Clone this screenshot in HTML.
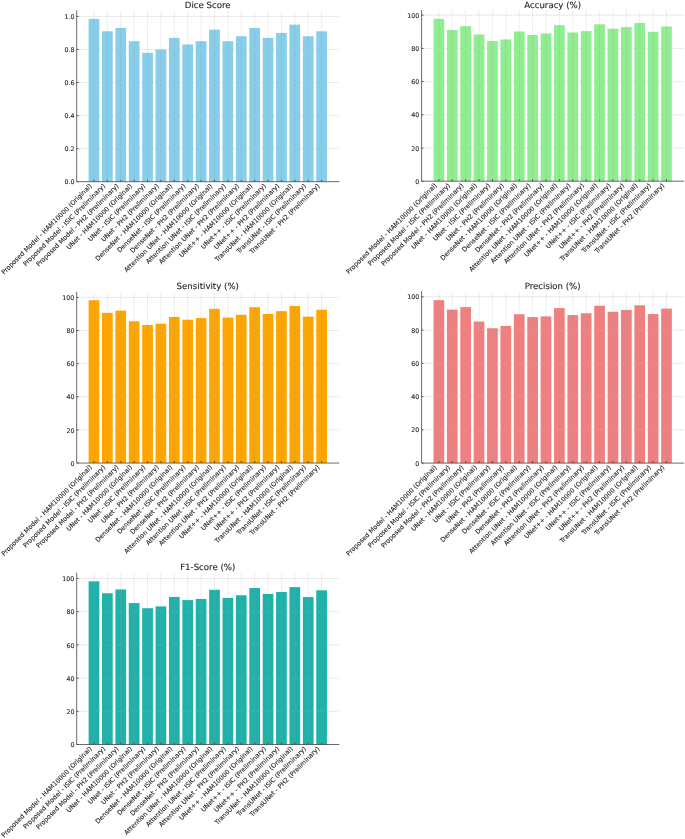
<!DOCTYPE html>
<html><head><meta charset="utf-8"><title>Model comparison</title>
<style>
html,body{margin:0;padding:0;background:#fff;}
svg{display:block;filter:blur(0.3px);}
text{font-family:"DejaVu Sans","Liberation Sans",sans-serif;fill:#262626;text-rendering:geometricPrecision;stroke:#262626;stroke-width:0.12px;}
.t{font-size:8.6px;text-anchor:middle;}
.y{font-size:6.3px;text-anchor:end;}
.x{font-size:6.45px;text-anchor:end;stroke-width:0.11px;}
.g{stroke:#cccccc;stroke-width:0.5;stroke-dasharray:1.3 0.6;fill:none;}
.o{stroke:#9a9a9a;stroke-width:0.5;fill:none;opacity:0.45;}
.s{stroke:#444444;stroke-width:0.8;fill:none;stroke-linecap:square;}
.k{stroke:#444444;stroke-width:0.85;fill:none;}
</style></head><body>
<svg width="685" height="839" viewBox="0 0 685 839">
<rect width="685" height="839" fill="#ffffff"/>

<g>
<text class="t" x="207.75" y="7.60">Dice Score</text>
<line class="g" x1="76.70" x2="338.80" y1="148.64" y2="148.64"/>
<line class="g" x1="76.70" x2="338.80" y1="115.58" y2="115.58"/>
<line class="g" x1="76.70" x2="338.80" y1="82.52" y2="82.52"/>
<line class="g" x1="76.70" x2="338.80" y1="49.46" y2="49.46"/>
<line class="g" x1="76.70" x2="338.80" y1="16.40" y2="16.40"/>
<line class="g" x1="93.97" x2="93.97" y1="10.90" y2="181.70"/>
<line class="g" x1="107.36" x2="107.36" y1="10.90" y2="181.70"/>
<line class="g" x1="120.75" x2="120.75" y1="10.90" y2="181.70"/>
<line class="g" x1="134.14" x2="134.14" y1="10.90" y2="181.70"/>
<line class="g" x1="147.53" x2="147.53" y1="10.90" y2="181.70"/>
<line class="g" x1="160.92" x2="160.92" y1="10.90" y2="181.70"/>
<line class="g" x1="174.31" x2="174.31" y1="10.90" y2="181.70"/>
<line class="g" x1="187.70" x2="187.70" y1="10.90" y2="181.70"/>
<line class="g" x1="201.09" x2="201.09" y1="10.90" y2="181.70"/>
<line class="g" x1="214.48" x2="214.48" y1="10.90" y2="181.70"/>
<line class="g" x1="227.87" x2="227.87" y1="10.90" y2="181.70"/>
<line class="g" x1="241.26" x2="241.26" y1="10.90" y2="181.70"/>
<line class="g" x1="254.65" x2="254.65" y1="10.90" y2="181.70"/>
<line class="g" x1="268.04" x2="268.04" y1="10.90" y2="181.70"/>
<line class="g" x1="281.43" x2="281.43" y1="10.90" y2="181.70"/>
<line class="g" x1="294.82" x2="294.82" y1="10.90" y2="181.70"/>
<line class="g" x1="308.21" x2="308.21" y1="10.90" y2="181.70"/>
<line class="g" x1="321.60" x2="321.60" y1="10.90" y2="181.70"/>
<rect x="88.62" y="18.88" width="10.71" height="162.82" fill="#87CEEB"/>
<rect x="102.01" y="31.28" width="10.71" height="150.42" fill="#87CEEB"/>
<rect x="115.40" y="27.97" width="10.71" height="153.73" fill="#87CEEB"/>
<rect x="128.79" y="41.20" width="10.71" height="140.50" fill="#87CEEB"/>
<rect x="142.18" y="52.77" width="10.71" height="128.93" fill="#87CEEB"/>
<rect x="155.57" y="49.46" width="10.71" height="132.24" fill="#87CEEB"/>
<rect x="168.96" y="37.89" width="10.71" height="143.81" fill="#87CEEB"/>
<rect x="182.35" y="44.50" width="10.71" height="137.20" fill="#87CEEB"/>
<rect x="195.74" y="41.20" width="10.71" height="140.50" fill="#87CEEB"/>
<rect x="209.13" y="29.62" width="10.71" height="152.08" fill="#87CEEB"/>
<rect x="222.52" y="41.20" width="10.71" height="140.50" fill="#87CEEB"/>
<rect x="235.91" y="36.24" width="10.71" height="145.46" fill="#87CEEB"/>
<rect x="249.30" y="27.97" width="10.71" height="153.73" fill="#87CEEB"/>
<rect x="262.69" y="37.89" width="10.71" height="143.81" fill="#87CEEB"/>
<rect x="276.08" y="32.93" width="10.71" height="148.77" fill="#87CEEB"/>
<rect x="289.47" y="24.67" width="10.71" height="157.03" fill="#87CEEB"/>
<rect x="302.86" y="36.24" width="10.71" height="145.46" fill="#87CEEB"/>
<rect x="316.25" y="31.28" width="10.71" height="150.42" fill="#87CEEB"/>
<line class="o" x1="93.97" x2="93.97" y1="18.88" y2="181.70"/>
<line class="o" x1="107.36" x2="107.36" y1="31.28" y2="181.70"/>
<line class="o" x1="120.75" x2="120.75" y1="27.97" y2="181.70"/>
<line class="o" x1="134.14" x2="134.14" y1="41.20" y2="181.70"/>
<line class="o" x1="147.53" x2="147.53" y1="52.77" y2="181.70"/>
<line class="o" x1="160.92" x2="160.92" y1="49.46" y2="181.70"/>
<line class="o" x1="174.31" x2="174.31" y1="37.89" y2="181.70"/>
<line class="o" x1="187.70" x2="187.70" y1="44.50" y2="181.70"/>
<line class="o" x1="201.09" x2="201.09" y1="41.20" y2="181.70"/>
<line class="o" x1="214.48" x2="214.48" y1="29.62" y2="181.70"/>
<line class="o" x1="227.87" x2="227.87" y1="41.20" y2="181.70"/>
<line class="o" x1="241.26" x2="241.26" y1="36.24" y2="181.70"/>
<line class="o" x1="254.65" x2="254.65" y1="27.97" y2="181.70"/>
<line class="o" x1="268.04" x2="268.04" y1="37.89" y2="181.70"/>
<line class="o" x1="281.43" x2="281.43" y1="32.93" y2="181.70"/>
<line class="o" x1="294.82" x2="294.82" y1="24.67" y2="181.70"/>
<line class="o" x1="308.21" x2="308.21" y1="36.24" y2="181.70"/>
<line class="o" x1="321.60" x2="321.60" y1="31.28" y2="181.70"/>
<line class="g" style="opacity:0.3" x1="76.70" x2="338.80" y1="148.64" y2="148.64"/>
<line class="g" style="opacity:0.3" x1="76.70" x2="338.80" y1="115.58" y2="115.58"/>
<line class="g" style="opacity:0.3" x1="76.70" x2="338.80" y1="82.52" y2="82.52"/>
<line class="g" style="opacity:0.3" x1="76.70" x2="338.80" y1="49.46" y2="49.46"/>
<line class="g" style="opacity:0.3" x1="76.70" x2="338.80" y1="16.40" y2="16.40"/>
<line class="k" x1="76.70" x2="78.70" y1="181.70" y2="181.70"/>
<text class="y" x="74.40" y="184.30">0.0</text>
<line class="k" x1="76.70" x2="78.70" y1="148.64" y2="148.64"/>
<text class="y" x="74.40" y="151.24">0.2</text>
<line class="k" x1="76.70" x2="78.70" y1="115.58" y2="115.58"/>
<text class="y" x="74.40" y="118.18">0.4</text>
<line class="k" x1="76.70" x2="78.70" y1="82.52" y2="82.52"/>
<text class="y" x="74.40" y="85.12">0.6</text>
<line class="k" x1="76.70" x2="78.70" y1="49.46" y2="49.46"/>
<text class="y" x="74.40" y="52.06">0.8</text>
<line class="k" x1="76.70" x2="78.70" y1="16.40" y2="16.40"/>
<text class="y" x="74.40" y="19.00">1.0</text>
<line class="k" x1="93.97" x2="93.97" y1="181.70" y2="179.70"/>
<line class="k" x1="107.36" x2="107.36" y1="181.70" y2="179.70"/>
<line class="k" x1="120.75" x2="120.75" y1="181.70" y2="179.70"/>
<line class="k" x1="134.14" x2="134.14" y1="181.70" y2="179.70"/>
<line class="k" x1="147.53" x2="147.53" y1="181.70" y2="179.70"/>
<line class="k" x1="160.92" x2="160.92" y1="181.70" y2="179.70"/>
<line class="k" x1="174.31" x2="174.31" y1="181.70" y2="179.70"/>
<line class="k" x1="187.70" x2="187.70" y1="181.70" y2="179.70"/>
<line class="k" x1="201.09" x2="201.09" y1="181.70" y2="179.70"/>
<line class="k" x1="214.48" x2="214.48" y1="181.70" y2="179.70"/>
<line class="k" x1="227.87" x2="227.87" y1="181.70" y2="179.70"/>
<line class="k" x1="241.26" x2="241.26" y1="181.70" y2="179.70"/>
<line class="k" x1="254.65" x2="254.65" y1="181.70" y2="179.70"/>
<line class="k" x1="268.04" x2="268.04" y1="181.70" y2="179.70"/>
<line class="k" x1="281.43" x2="281.43" y1="181.70" y2="179.70"/>
<line class="k" x1="294.82" x2="294.82" y1="181.70" y2="179.70"/>
<line class="k" x1="308.21" x2="308.21" y1="181.70" y2="179.70"/>
<line class="k" x1="321.60" x2="321.60" y1="181.70" y2="179.70"/>
<path class="s" d="M76.70 10.90V181.70H338.80"/>
<text class="x" transform="translate(92.34 186.47) rotate(-45)">Proposed Model - HAM10000 (Original)</text>
<text class="x" transform="translate(105.73 186.47) rotate(-45)">Proposed Model - ISIC (Preliminary)</text>
<text class="x" transform="translate(119.12 186.47) rotate(-45)">Proposed Model - PH2 (Preliminary)</text>
<text class="x" transform="translate(132.51 186.47) rotate(-45)">UNet - HAM10000 (Original)</text>
<text class="x" transform="translate(145.90 186.47) rotate(-45)">UNet - ISIC (Preliminary)</text>
<text class="x" transform="translate(159.29 186.47) rotate(-45)">UNet - PH2 (Preliminary)</text>
<text class="x" transform="translate(172.68 186.47) rotate(-45)">DenseNet - HAM10000 (Original)</text>
<text class="x" transform="translate(186.07 186.47) rotate(-45)">DenseNet - ISIC (Preliminary)</text>
<text class="x" transform="translate(199.46 186.47) rotate(-45)">DenseNet - PH2 (Preliminary)</text>
<text class="x" transform="translate(212.85 186.47) rotate(-45)">Attention UNet - HAM10000 (Original)</text>
<text class="x" transform="translate(226.24 186.47) rotate(-45)">Attention UNet - ISIC (Preliminary)</text>
<text class="x" transform="translate(239.63 186.47) rotate(-45)">Attention UNet - PH2 (Preliminary)</text>
<text class="x" transform="translate(253.02 186.47) rotate(-45)">UNet++ - HAM10000 (Original)</text>
<text class="x" transform="translate(266.41 186.47) rotate(-45)">UNet++ - ISIC (Preliminary)</text>
<text class="x" transform="translate(279.80 186.47) rotate(-45)">UNet++ - PH2 (Preliminary)</text>
<text class="x" transform="translate(293.19 186.47) rotate(-45)">TransUNet - HAM10000 (Original)</text>
<text class="x" transform="translate(306.58 186.47) rotate(-45)">TransUNet - ISIC (Preliminary)</text>
<text class="x" transform="translate(319.97 186.47) rotate(-45)">TransUNet - PH2 (Preliminary)</text>
</g>
<g>
<text class="t" x="552.65" y="7.50">Accuracy (%)</text>
<line class="g" x1="421.60" x2="683.70" y1="148.00" y2="148.00"/>
<line class="g" x1="421.60" x2="683.70" y1="114.80" y2="114.80"/>
<line class="g" x1="421.60" x2="683.70" y1="81.60" y2="81.60"/>
<line class="g" x1="421.60" x2="683.70" y1="48.40" y2="48.40"/>
<line class="g" x1="421.60" x2="683.70" y1="15.20" y2="15.20"/>
<line class="g" x1="438.87" x2="438.87" y1="10.50" y2="181.20"/>
<line class="g" x1="452.26" x2="452.26" y1="10.50" y2="181.20"/>
<line class="g" x1="465.65" x2="465.65" y1="10.50" y2="181.20"/>
<line class="g" x1="479.04" x2="479.04" y1="10.50" y2="181.20"/>
<line class="g" x1="492.43" x2="492.43" y1="10.50" y2="181.20"/>
<line class="g" x1="505.82" x2="505.82" y1="10.50" y2="181.20"/>
<line class="g" x1="519.21" x2="519.21" y1="10.50" y2="181.20"/>
<line class="g" x1="532.60" x2="532.60" y1="10.50" y2="181.20"/>
<line class="g" x1="545.99" x2="545.99" y1="10.50" y2="181.20"/>
<line class="g" x1="559.38" x2="559.38" y1="10.50" y2="181.20"/>
<line class="g" x1="572.77" x2="572.77" y1="10.50" y2="181.20"/>
<line class="g" x1="586.16" x2="586.16" y1="10.50" y2="181.20"/>
<line class="g" x1="599.55" x2="599.55" y1="10.50" y2="181.20"/>
<line class="g" x1="612.94" x2="612.94" y1="10.50" y2="181.20"/>
<line class="g" x1="626.33" x2="626.33" y1="10.50" y2="181.20"/>
<line class="g" x1="639.72" x2="639.72" y1="10.50" y2="181.20"/>
<line class="g" x1="653.11" x2="653.11" y1="10.50" y2="181.20"/>
<line class="g" x1="666.50" x2="666.50" y1="10.50" y2="181.20"/>
<rect x="433.52" y="18.85" width="10.71" height="162.35" fill="#90EE90"/>
<rect x="446.91" y="29.97" width="10.71" height="151.23" fill="#90EE90"/>
<rect x="460.30" y="26.16" width="10.71" height="155.04" fill="#90EE90"/>
<rect x="473.69" y="34.46" width="10.71" height="146.74" fill="#90EE90"/>
<rect x="487.08" y="40.93" width="10.71" height="140.27" fill="#90EE90"/>
<rect x="500.47" y="39.44" width="10.71" height="141.76" fill="#90EE90"/>
<rect x="513.86" y="31.47" width="10.71" height="149.73" fill="#90EE90"/>
<rect x="527.25" y="34.95" width="10.71" height="146.25" fill="#90EE90"/>
<rect x="540.64" y="33.46" width="10.71" height="147.74" fill="#90EE90"/>
<rect x="554.03" y="25.16" width="10.71" height="156.04" fill="#90EE90"/>
<rect x="567.42" y="32.46" width="10.71" height="148.74" fill="#90EE90"/>
<rect x="580.81" y="31.14" width="10.71" height="150.06" fill="#90EE90"/>
<rect x="594.20" y="24.33" width="10.71" height="156.87" fill="#90EE90"/>
<rect x="607.59" y="28.65" width="10.71" height="152.55" fill="#90EE90"/>
<rect x="620.98" y="27.15" width="10.71" height="154.05" fill="#90EE90"/>
<rect x="634.37" y="23.00" width="10.71" height="158.20" fill="#90EE90"/>
<rect x="647.76" y="31.80" width="10.71" height="149.40" fill="#90EE90"/>
<rect x="661.15" y="26.49" width="10.71" height="154.71" fill="#90EE90"/>
<line class="o" x1="438.87" x2="438.87" y1="18.85" y2="181.20"/>
<line class="o" x1="452.26" x2="452.26" y1="29.97" y2="181.20"/>
<line class="o" x1="465.65" x2="465.65" y1="26.16" y2="181.20"/>
<line class="o" x1="479.04" x2="479.04" y1="34.46" y2="181.20"/>
<line class="o" x1="492.43" x2="492.43" y1="40.93" y2="181.20"/>
<line class="o" x1="505.82" x2="505.82" y1="39.44" y2="181.20"/>
<line class="o" x1="519.21" x2="519.21" y1="31.47" y2="181.20"/>
<line class="o" x1="532.60" x2="532.60" y1="34.95" y2="181.20"/>
<line class="o" x1="545.99" x2="545.99" y1="33.46" y2="181.20"/>
<line class="o" x1="559.38" x2="559.38" y1="25.16" y2="181.20"/>
<line class="o" x1="572.77" x2="572.77" y1="32.46" y2="181.20"/>
<line class="o" x1="586.16" x2="586.16" y1="31.14" y2="181.20"/>
<line class="o" x1="599.55" x2="599.55" y1="24.33" y2="181.20"/>
<line class="o" x1="612.94" x2="612.94" y1="28.65" y2="181.20"/>
<line class="o" x1="626.33" x2="626.33" y1="27.15" y2="181.20"/>
<line class="o" x1="639.72" x2="639.72" y1="23.00" y2="181.20"/>
<line class="o" x1="653.11" x2="653.11" y1="31.80" y2="181.20"/>
<line class="o" x1="666.50" x2="666.50" y1="26.49" y2="181.20"/>
<line class="g" style="opacity:0.3" x1="421.60" x2="683.70" y1="148.00" y2="148.00"/>
<line class="g" style="opacity:0.3" x1="421.60" x2="683.70" y1="114.80" y2="114.80"/>
<line class="g" style="opacity:0.3" x1="421.60" x2="683.70" y1="81.60" y2="81.60"/>
<line class="g" style="opacity:0.3" x1="421.60" x2="683.70" y1="48.40" y2="48.40"/>
<line class="g" style="opacity:0.3" x1="421.60" x2="683.70" y1="15.20" y2="15.20"/>
<line class="k" x1="421.60" x2="423.60" y1="181.20" y2="181.20"/>
<text class="y" x="419.30" y="183.80">0</text>
<line class="k" x1="421.60" x2="423.60" y1="148.00" y2="148.00"/>
<text class="y" x="419.30" y="150.60">20</text>
<line class="k" x1="421.60" x2="423.60" y1="114.80" y2="114.80"/>
<text class="y" x="419.30" y="117.40">40</text>
<line class="k" x1="421.60" x2="423.60" y1="81.60" y2="81.60"/>
<text class="y" x="419.30" y="84.20">60</text>
<line class="k" x1="421.60" x2="423.60" y1="48.40" y2="48.40"/>
<text class="y" x="419.30" y="51.00">80</text>
<line class="k" x1="421.60" x2="423.60" y1="15.20" y2="15.20"/>
<text class="y" x="419.30" y="17.80">100</text>
<line class="k" x1="438.87" x2="438.87" y1="181.20" y2="179.20"/>
<line class="k" x1="452.26" x2="452.26" y1="181.20" y2="179.20"/>
<line class="k" x1="465.65" x2="465.65" y1="181.20" y2="179.20"/>
<line class="k" x1="479.04" x2="479.04" y1="181.20" y2="179.20"/>
<line class="k" x1="492.43" x2="492.43" y1="181.20" y2="179.20"/>
<line class="k" x1="505.82" x2="505.82" y1="181.20" y2="179.20"/>
<line class="k" x1="519.21" x2="519.21" y1="181.20" y2="179.20"/>
<line class="k" x1="532.60" x2="532.60" y1="181.20" y2="179.20"/>
<line class="k" x1="545.99" x2="545.99" y1="181.20" y2="179.20"/>
<line class="k" x1="559.38" x2="559.38" y1="181.20" y2="179.20"/>
<line class="k" x1="572.77" x2="572.77" y1="181.20" y2="179.20"/>
<line class="k" x1="586.16" x2="586.16" y1="181.20" y2="179.20"/>
<line class="k" x1="599.55" x2="599.55" y1="181.20" y2="179.20"/>
<line class="k" x1="612.94" x2="612.94" y1="181.20" y2="179.20"/>
<line class="k" x1="626.33" x2="626.33" y1="181.20" y2="179.20"/>
<line class="k" x1="639.72" x2="639.72" y1="181.20" y2="179.20"/>
<line class="k" x1="653.11" x2="653.11" y1="181.20" y2="179.20"/>
<line class="k" x1="666.50" x2="666.50" y1="181.20" y2="179.20"/>
<path class="s" d="M421.60 10.50V181.20H683.70"/>
<text class="x" transform="translate(437.24 185.97) rotate(-45)">Proposed Model - HAM10000 (Original)</text>
<text class="x" transform="translate(450.63 185.97) rotate(-45)">Proposed Model - ISIC (Preliminary)</text>
<text class="x" transform="translate(464.02 185.97) rotate(-45)">Proposed Model - PH2 (Preliminary)</text>
<text class="x" transform="translate(477.41 185.97) rotate(-45)">UNet - HAM10000 (Original)</text>
<text class="x" transform="translate(490.80 185.97) rotate(-45)">UNet - ISIC (Preliminary)</text>
<text class="x" transform="translate(504.19 185.97) rotate(-45)">UNet - PH2 (Preliminary)</text>
<text class="x" transform="translate(517.58 185.97) rotate(-45)">DenseNet - HAM10000 (Original)</text>
<text class="x" transform="translate(530.97 185.97) rotate(-45)">DenseNet - ISIC (Preliminary)</text>
<text class="x" transform="translate(544.36 185.97) rotate(-45)">DenseNet - PH2 (Preliminary)</text>
<text class="x" transform="translate(557.75 185.97) rotate(-45)">Attention UNet - HAM10000 (Original)</text>
<text class="x" transform="translate(571.14 185.97) rotate(-45)">Attention UNet - ISIC (Preliminary)</text>
<text class="x" transform="translate(584.53 185.97) rotate(-45)">Attention UNet - PH2 (Preliminary)</text>
<text class="x" transform="translate(597.92 185.97) rotate(-45)">UNet++ - HAM10000 (Original)</text>
<text class="x" transform="translate(611.31 185.97) rotate(-45)">UNet++ - ISIC (Preliminary)</text>
<text class="x" transform="translate(624.70 185.97) rotate(-45)">UNet++ - PH2 (Preliminary)</text>
<text class="x" transform="translate(638.09 185.97) rotate(-45)">TransUNet - HAM10000 (Original)</text>
<text class="x" transform="translate(651.48 185.97) rotate(-45)">TransUNet - ISIC (Preliminary)</text>
<text class="x" transform="translate(664.87 185.97) rotate(-45)">TransUNet - PH2 (Preliminary)</text>
</g>
<g>
<text class="t" x="207.75" y="288.90">Sensitivity (%)</text>
<line class="g" x1="76.70" x2="338.80" y1="429.92" y2="429.92"/>
<line class="g" x1="76.70" x2="338.80" y1="396.79" y2="396.79"/>
<line class="g" x1="76.70" x2="338.80" y1="363.66" y2="363.66"/>
<line class="g" x1="76.70" x2="338.80" y1="330.53" y2="330.53"/>
<line class="g" x1="76.70" x2="338.80" y1="297.40" y2="297.40"/>
<line class="g" x1="93.97" x2="93.97" y1="292.20" y2="463.05"/>
<line class="g" x1="107.36" x2="107.36" y1="292.20" y2="463.05"/>
<line class="g" x1="120.75" x2="120.75" y1="292.20" y2="463.05"/>
<line class="g" x1="134.14" x2="134.14" y1="292.20" y2="463.05"/>
<line class="g" x1="147.53" x2="147.53" y1="292.20" y2="463.05"/>
<line class="g" x1="160.92" x2="160.92" y1="292.20" y2="463.05"/>
<line class="g" x1="174.31" x2="174.31" y1="292.20" y2="463.05"/>
<line class="g" x1="187.70" x2="187.70" y1="292.20" y2="463.05"/>
<line class="g" x1="201.09" x2="201.09" y1="292.20" y2="463.05"/>
<line class="g" x1="214.48" x2="214.48" y1="292.20" y2="463.05"/>
<line class="g" x1="227.87" x2="227.87" y1="292.20" y2="463.05"/>
<line class="g" x1="241.26" x2="241.26" y1="292.20" y2="463.05"/>
<line class="g" x1="254.65" x2="254.65" y1="292.20" y2="463.05"/>
<line class="g" x1="268.04" x2="268.04" y1="292.20" y2="463.05"/>
<line class="g" x1="281.43" x2="281.43" y1="292.20" y2="463.05"/>
<line class="g" x1="294.82" x2="294.82" y1="292.20" y2="463.05"/>
<line class="g" x1="308.21" x2="308.21" y1="292.20" y2="463.05"/>
<line class="g" x1="321.60" x2="321.60" y1="292.20" y2="463.05"/>
<rect x="88.62" y="300.22" width="10.71" height="162.83" fill="#FFA500"/>
<rect x="102.01" y="312.81" width="10.71" height="150.24" fill="#FFA500"/>
<rect x="115.40" y="310.65" width="10.71" height="152.40" fill="#FFA500"/>
<rect x="128.79" y="321.25" width="10.71" height="141.80" fill="#FFA500"/>
<rect x="142.18" y="325.06" width="10.71" height="137.99" fill="#FFA500"/>
<rect x="155.57" y="323.74" width="10.71" height="139.31" fill="#FFA500"/>
<rect x="168.96" y="316.95" width="10.71" height="146.10" fill="#FFA500"/>
<rect x="182.35" y="319.76" width="10.71" height="143.29" fill="#FFA500"/>
<rect x="195.74" y="318.11" width="10.71" height="144.94" fill="#FFA500"/>
<rect x="209.13" y="308.83" width="10.71" height="154.22" fill="#FFA500"/>
<rect x="222.52" y="317.61" width="10.71" height="145.44" fill="#FFA500"/>
<rect x="235.91" y="314.79" width="10.71" height="148.26" fill="#FFA500"/>
<rect x="249.30" y="307.17" width="10.71" height="155.88" fill="#FFA500"/>
<rect x="262.69" y="313.97" width="10.71" height="149.09" fill="#FFA500"/>
<rect x="276.08" y="311.15" width="10.71" height="151.90" fill="#FFA500"/>
<rect x="289.47" y="306.01" width="10.71" height="157.04" fill="#FFA500"/>
<rect x="302.86" y="316.62" width="10.71" height="146.43" fill="#FFA500"/>
<rect x="316.25" y="309.82" width="10.71" height="153.23" fill="#FFA500"/>
<line class="o" x1="93.97" x2="93.97" y1="300.22" y2="463.05"/>
<line class="o" x1="107.36" x2="107.36" y1="312.81" y2="463.05"/>
<line class="o" x1="120.75" x2="120.75" y1="310.65" y2="463.05"/>
<line class="o" x1="134.14" x2="134.14" y1="321.25" y2="463.05"/>
<line class="o" x1="147.53" x2="147.53" y1="325.06" y2="463.05"/>
<line class="o" x1="160.92" x2="160.92" y1="323.74" y2="463.05"/>
<line class="o" x1="174.31" x2="174.31" y1="316.95" y2="463.05"/>
<line class="o" x1="187.70" x2="187.70" y1="319.76" y2="463.05"/>
<line class="o" x1="201.09" x2="201.09" y1="318.11" y2="463.05"/>
<line class="o" x1="214.48" x2="214.48" y1="308.83" y2="463.05"/>
<line class="o" x1="227.87" x2="227.87" y1="317.61" y2="463.05"/>
<line class="o" x1="241.26" x2="241.26" y1="314.79" y2="463.05"/>
<line class="o" x1="254.65" x2="254.65" y1="307.17" y2="463.05"/>
<line class="o" x1="268.04" x2="268.04" y1="313.97" y2="463.05"/>
<line class="o" x1="281.43" x2="281.43" y1="311.15" y2="463.05"/>
<line class="o" x1="294.82" x2="294.82" y1="306.01" y2="463.05"/>
<line class="o" x1="308.21" x2="308.21" y1="316.62" y2="463.05"/>
<line class="o" x1="321.60" x2="321.60" y1="309.82" y2="463.05"/>
<line class="g" style="opacity:0.3" x1="76.70" x2="338.80" y1="429.92" y2="429.92"/>
<line class="g" style="opacity:0.3" x1="76.70" x2="338.80" y1="396.79" y2="396.79"/>
<line class="g" style="opacity:0.3" x1="76.70" x2="338.80" y1="363.66" y2="363.66"/>
<line class="g" style="opacity:0.3" x1="76.70" x2="338.80" y1="330.53" y2="330.53"/>
<line class="g" style="opacity:0.3" x1="76.70" x2="338.80" y1="297.40" y2="297.40"/>
<line class="k" x1="76.70" x2="78.70" y1="463.05" y2="463.05"/>
<text class="y" x="74.40" y="465.65">0</text>
<line class="k" x1="76.70" x2="78.70" y1="429.92" y2="429.92"/>
<text class="y" x="74.40" y="432.52">20</text>
<line class="k" x1="76.70" x2="78.70" y1="396.79" y2="396.79"/>
<text class="y" x="74.40" y="399.39">40</text>
<line class="k" x1="76.70" x2="78.70" y1="363.66" y2="363.66"/>
<text class="y" x="74.40" y="366.26">60</text>
<line class="k" x1="76.70" x2="78.70" y1="330.53" y2="330.53"/>
<text class="y" x="74.40" y="333.13">80</text>
<line class="k" x1="76.70" x2="78.70" y1="297.40" y2="297.40"/>
<text class="y" x="74.40" y="300.00">100</text>
<line class="k" x1="93.97" x2="93.97" y1="463.05" y2="461.05"/>
<line class="k" x1="107.36" x2="107.36" y1="463.05" y2="461.05"/>
<line class="k" x1="120.75" x2="120.75" y1="463.05" y2="461.05"/>
<line class="k" x1="134.14" x2="134.14" y1="463.05" y2="461.05"/>
<line class="k" x1="147.53" x2="147.53" y1="463.05" y2="461.05"/>
<line class="k" x1="160.92" x2="160.92" y1="463.05" y2="461.05"/>
<line class="k" x1="174.31" x2="174.31" y1="463.05" y2="461.05"/>
<line class="k" x1="187.70" x2="187.70" y1="463.05" y2="461.05"/>
<line class="k" x1="201.09" x2="201.09" y1="463.05" y2="461.05"/>
<line class="k" x1="214.48" x2="214.48" y1="463.05" y2="461.05"/>
<line class="k" x1="227.87" x2="227.87" y1="463.05" y2="461.05"/>
<line class="k" x1="241.26" x2="241.26" y1="463.05" y2="461.05"/>
<line class="k" x1="254.65" x2="254.65" y1="463.05" y2="461.05"/>
<line class="k" x1="268.04" x2="268.04" y1="463.05" y2="461.05"/>
<line class="k" x1="281.43" x2="281.43" y1="463.05" y2="461.05"/>
<line class="k" x1="294.82" x2="294.82" y1="463.05" y2="461.05"/>
<line class="k" x1="308.21" x2="308.21" y1="463.05" y2="461.05"/>
<line class="k" x1="321.60" x2="321.60" y1="463.05" y2="461.05"/>
<path class="s" d="M76.70 292.20V463.05H338.80"/>
<text class="x" transform="translate(92.34 467.82) rotate(-45)">Proposed Model - HAM10000 (Original)</text>
<text class="x" transform="translate(105.73 467.82) rotate(-45)">Proposed Model - ISIC (Preliminary)</text>
<text class="x" transform="translate(119.12 467.82) rotate(-45)">Proposed Model - PH2 (Preliminary)</text>
<text class="x" transform="translate(132.51 467.82) rotate(-45)">UNet - HAM10000 (Original)</text>
<text class="x" transform="translate(145.90 467.82) rotate(-45)">UNet - ISIC (Preliminary)</text>
<text class="x" transform="translate(159.29 467.82) rotate(-45)">UNet - PH2 (Preliminary)</text>
<text class="x" transform="translate(172.68 467.82) rotate(-45)">DenseNet - HAM10000 (Original)</text>
<text class="x" transform="translate(186.07 467.82) rotate(-45)">DenseNet - ISIC (Preliminary)</text>
<text class="x" transform="translate(199.46 467.82) rotate(-45)">DenseNet - PH2 (Preliminary)</text>
<text class="x" transform="translate(212.85 467.82) rotate(-45)">Attention UNet - HAM10000 (Original)</text>
<text class="x" transform="translate(226.24 467.82) rotate(-45)">Attention UNet - ISIC (Preliminary)</text>
<text class="x" transform="translate(239.63 467.82) rotate(-45)">Attention UNet - PH2 (Preliminary)</text>
<text class="x" transform="translate(253.02 467.82) rotate(-45)">UNet++ - HAM10000 (Original)</text>
<text class="x" transform="translate(266.41 467.82) rotate(-45)">UNet++ - ISIC (Preliminary)</text>
<text class="x" transform="translate(279.80 467.82) rotate(-45)">UNet++ - PH2 (Preliminary)</text>
<text class="x" transform="translate(293.19 467.82) rotate(-45)">TransUNet - HAM10000 (Original)</text>
<text class="x" transform="translate(306.58 467.82) rotate(-45)">TransUNet - ISIC (Preliminary)</text>
<text class="x" transform="translate(319.97 467.82) rotate(-45)">TransUNet - PH2 (Preliminary)</text>
</g>
<g>
<text class="t" x="552.65" y="288.60">Precision (%)</text>
<line class="g" x1="421.60" x2="683.70" y1="429.84" y2="429.84"/>
<line class="g" x1="421.60" x2="683.70" y1="396.58" y2="396.58"/>
<line class="g" x1="421.60" x2="683.70" y1="363.32" y2="363.32"/>
<line class="g" x1="421.60" x2="683.70" y1="330.06" y2="330.06"/>
<line class="g" x1="421.60" x2="683.70" y1="296.80" y2="296.80"/>
<line class="g" x1="438.87" x2="438.87" y1="291.60" y2="463.10"/>
<line class="g" x1="452.26" x2="452.26" y1="291.60" y2="463.10"/>
<line class="g" x1="465.65" x2="465.65" y1="291.60" y2="463.10"/>
<line class="g" x1="479.04" x2="479.04" y1="291.60" y2="463.10"/>
<line class="g" x1="492.43" x2="492.43" y1="291.60" y2="463.10"/>
<line class="g" x1="505.82" x2="505.82" y1="291.60" y2="463.10"/>
<line class="g" x1="519.21" x2="519.21" y1="291.60" y2="463.10"/>
<line class="g" x1="532.60" x2="532.60" y1="291.60" y2="463.10"/>
<line class="g" x1="545.99" x2="545.99" y1="291.60" y2="463.10"/>
<line class="g" x1="559.38" x2="559.38" y1="291.60" y2="463.10"/>
<line class="g" x1="572.77" x2="572.77" y1="291.60" y2="463.10"/>
<line class="g" x1="586.16" x2="586.16" y1="291.60" y2="463.10"/>
<line class="g" x1="599.55" x2="599.55" y1="291.60" y2="463.10"/>
<line class="g" x1="612.94" x2="612.94" y1="291.60" y2="463.10"/>
<line class="g" x1="626.33" x2="626.33" y1="291.60" y2="463.10"/>
<line class="g" x1="639.72" x2="639.72" y1="291.60" y2="463.10"/>
<line class="g" x1="653.11" x2="653.11" y1="291.60" y2="463.10"/>
<line class="g" x1="666.50" x2="666.50" y1="291.60" y2="463.10"/>
<rect x="433.52" y="300.13" width="10.71" height="162.97" fill="#F08080"/>
<rect x="446.91" y="309.61" width="10.71" height="153.49" fill="#F08080"/>
<rect x="460.30" y="307.11" width="10.71" height="155.99" fill="#F08080"/>
<rect x="473.69" y="321.58" width="10.71" height="141.52" fill="#F08080"/>
<rect x="487.08" y="328.23" width="10.71" height="134.87" fill="#F08080"/>
<rect x="500.47" y="325.90" width="10.71" height="137.20" fill="#F08080"/>
<rect x="513.86" y="314.26" width="10.71" height="148.84" fill="#F08080"/>
<rect x="527.25" y="317.09" width="10.71" height="146.01" fill="#F08080"/>
<rect x="540.64" y="316.42" width="10.71" height="146.68" fill="#F08080"/>
<rect x="554.03" y="308.11" width="10.71" height="154.99" fill="#F08080"/>
<rect x="567.42" y="315.09" width="10.71" height="148.01" fill="#F08080"/>
<rect x="580.81" y="313.26" width="10.71" height="149.84" fill="#F08080"/>
<rect x="594.20" y="305.78" width="10.71" height="157.32" fill="#F08080"/>
<rect x="607.59" y="311.77" width="10.71" height="151.33" fill="#F08080"/>
<rect x="620.98" y="309.94" width="10.71" height="153.16" fill="#F08080"/>
<rect x="634.37" y="305.28" width="10.71" height="157.82" fill="#F08080"/>
<rect x="647.76" y="314.10" width="10.71" height="149.00" fill="#F08080"/>
<rect x="661.15" y="308.61" width="10.71" height="154.49" fill="#F08080"/>
<line class="o" x1="438.87" x2="438.87" y1="300.13" y2="463.10"/>
<line class="o" x1="452.26" x2="452.26" y1="309.61" y2="463.10"/>
<line class="o" x1="465.65" x2="465.65" y1="307.11" y2="463.10"/>
<line class="o" x1="479.04" x2="479.04" y1="321.58" y2="463.10"/>
<line class="o" x1="492.43" x2="492.43" y1="328.23" y2="463.10"/>
<line class="o" x1="505.82" x2="505.82" y1="325.90" y2="463.10"/>
<line class="o" x1="519.21" x2="519.21" y1="314.26" y2="463.10"/>
<line class="o" x1="532.60" x2="532.60" y1="317.09" y2="463.10"/>
<line class="o" x1="545.99" x2="545.99" y1="316.42" y2="463.10"/>
<line class="o" x1="559.38" x2="559.38" y1="308.11" y2="463.10"/>
<line class="o" x1="572.77" x2="572.77" y1="315.09" y2="463.10"/>
<line class="o" x1="586.16" x2="586.16" y1="313.26" y2="463.10"/>
<line class="o" x1="599.55" x2="599.55" y1="305.78" y2="463.10"/>
<line class="o" x1="612.94" x2="612.94" y1="311.77" y2="463.10"/>
<line class="o" x1="626.33" x2="626.33" y1="309.94" y2="463.10"/>
<line class="o" x1="639.72" x2="639.72" y1="305.28" y2="463.10"/>
<line class="o" x1="653.11" x2="653.11" y1="314.10" y2="463.10"/>
<line class="o" x1="666.50" x2="666.50" y1="308.61" y2="463.10"/>
<line class="g" style="opacity:0.3" x1="421.60" x2="683.70" y1="429.84" y2="429.84"/>
<line class="g" style="opacity:0.3" x1="421.60" x2="683.70" y1="396.58" y2="396.58"/>
<line class="g" style="opacity:0.3" x1="421.60" x2="683.70" y1="363.32" y2="363.32"/>
<line class="g" style="opacity:0.3" x1="421.60" x2="683.70" y1="330.06" y2="330.06"/>
<line class="g" style="opacity:0.3" x1="421.60" x2="683.70" y1="296.80" y2="296.80"/>
<line class="k" x1="421.60" x2="423.60" y1="463.10" y2="463.10"/>
<text class="y" x="419.30" y="465.70">0</text>
<line class="k" x1="421.60" x2="423.60" y1="429.84" y2="429.84"/>
<text class="y" x="419.30" y="432.44">20</text>
<line class="k" x1="421.60" x2="423.60" y1="396.58" y2="396.58"/>
<text class="y" x="419.30" y="399.18">40</text>
<line class="k" x1="421.60" x2="423.60" y1="363.32" y2="363.32"/>
<text class="y" x="419.30" y="365.92">60</text>
<line class="k" x1="421.60" x2="423.60" y1="330.06" y2="330.06"/>
<text class="y" x="419.30" y="332.66">80</text>
<line class="k" x1="421.60" x2="423.60" y1="296.80" y2="296.80"/>
<text class="y" x="419.30" y="299.40">100</text>
<line class="k" x1="438.87" x2="438.87" y1="463.10" y2="461.10"/>
<line class="k" x1="452.26" x2="452.26" y1="463.10" y2="461.10"/>
<line class="k" x1="465.65" x2="465.65" y1="463.10" y2="461.10"/>
<line class="k" x1="479.04" x2="479.04" y1="463.10" y2="461.10"/>
<line class="k" x1="492.43" x2="492.43" y1="463.10" y2="461.10"/>
<line class="k" x1="505.82" x2="505.82" y1="463.10" y2="461.10"/>
<line class="k" x1="519.21" x2="519.21" y1="463.10" y2="461.10"/>
<line class="k" x1="532.60" x2="532.60" y1="463.10" y2="461.10"/>
<line class="k" x1="545.99" x2="545.99" y1="463.10" y2="461.10"/>
<line class="k" x1="559.38" x2="559.38" y1="463.10" y2="461.10"/>
<line class="k" x1="572.77" x2="572.77" y1="463.10" y2="461.10"/>
<line class="k" x1="586.16" x2="586.16" y1="463.10" y2="461.10"/>
<line class="k" x1="599.55" x2="599.55" y1="463.10" y2="461.10"/>
<line class="k" x1="612.94" x2="612.94" y1="463.10" y2="461.10"/>
<line class="k" x1="626.33" x2="626.33" y1="463.10" y2="461.10"/>
<line class="k" x1="639.72" x2="639.72" y1="463.10" y2="461.10"/>
<line class="k" x1="653.11" x2="653.11" y1="463.10" y2="461.10"/>
<line class="k" x1="666.50" x2="666.50" y1="463.10" y2="461.10"/>
<path class="s" d="M421.60 291.60V463.10H683.70"/>
<text class="x" transform="translate(437.24 467.87) rotate(-45)">Proposed Model - HAM10000 (Original)</text>
<text class="x" transform="translate(450.63 467.87) rotate(-45)">Proposed Model - ISIC (Preliminary)</text>
<text class="x" transform="translate(464.02 467.87) rotate(-45)">Proposed Model - PH2 (Preliminary)</text>
<text class="x" transform="translate(477.41 467.87) rotate(-45)">UNet - HAM10000 (Original)</text>
<text class="x" transform="translate(490.80 467.87) rotate(-45)">UNet - ISIC (Preliminary)</text>
<text class="x" transform="translate(504.19 467.87) rotate(-45)">UNet - PH2 (Preliminary)</text>
<text class="x" transform="translate(517.58 467.87) rotate(-45)">DenseNet - HAM10000 (Original)</text>
<text class="x" transform="translate(530.97 467.87) rotate(-45)">DenseNet - ISIC (Preliminary)</text>
<text class="x" transform="translate(544.36 467.87) rotate(-45)">DenseNet - PH2 (Preliminary)</text>
<text class="x" transform="translate(557.75 467.87) rotate(-45)">Attention UNet - HAM10000 (Original)</text>
<text class="x" transform="translate(571.14 467.87) rotate(-45)">Attention UNet - ISIC (Preliminary)</text>
<text class="x" transform="translate(584.53 467.87) rotate(-45)">Attention UNet - PH2 (Preliminary)</text>
<text class="x" transform="translate(597.92 467.87) rotate(-45)">UNet++ - HAM10000 (Original)</text>
<text class="x" transform="translate(611.31 467.87) rotate(-45)">UNet++ - ISIC (Preliminary)</text>
<text class="x" transform="translate(624.70 467.87) rotate(-45)">UNet++ - PH2 (Preliminary)</text>
<text class="x" transform="translate(638.09 467.87) rotate(-45)">TransUNet - HAM10000 (Original)</text>
<text class="x" transform="translate(651.48 467.87) rotate(-45)">TransUNet - ISIC (Preliminary)</text>
<text class="x" transform="translate(664.87 467.87) rotate(-45)">TransUNet - PH2 (Preliminary)</text>
</g>
<g>
<text class="t" x="207.75" y="569.90">F1-Score (%)</text>
<line class="g" x1="76.70" x2="338.80" y1="711.30" y2="711.30"/>
<line class="g" x1="76.70" x2="338.80" y1="678.10" y2="678.10"/>
<line class="g" x1="76.70" x2="338.80" y1="644.90" y2="644.90"/>
<line class="g" x1="76.70" x2="338.80" y1="611.70" y2="611.70"/>
<line class="g" x1="76.70" x2="338.80" y1="578.50" y2="578.50"/>
<line class="g" x1="93.97" x2="93.97" y1="573.20" y2="744.50"/>
<line class="g" x1="107.36" x2="107.36" y1="573.20" y2="744.50"/>
<line class="g" x1="120.75" x2="120.75" y1="573.20" y2="744.50"/>
<line class="g" x1="134.14" x2="134.14" y1="573.20" y2="744.50"/>
<line class="g" x1="147.53" x2="147.53" y1="573.20" y2="744.50"/>
<line class="g" x1="160.92" x2="160.92" y1="573.20" y2="744.50"/>
<line class="g" x1="174.31" x2="174.31" y1="573.20" y2="744.50"/>
<line class="g" x1="187.70" x2="187.70" y1="573.20" y2="744.50"/>
<line class="g" x1="201.09" x2="201.09" y1="573.20" y2="744.50"/>
<line class="g" x1="214.48" x2="214.48" y1="573.20" y2="744.50"/>
<line class="g" x1="227.87" x2="227.87" y1="573.20" y2="744.50"/>
<line class="g" x1="241.26" x2="241.26" y1="573.20" y2="744.50"/>
<line class="g" x1="254.65" x2="254.65" y1="573.20" y2="744.50"/>
<line class="g" x1="268.04" x2="268.04" y1="573.20" y2="744.50"/>
<line class="g" x1="281.43" x2="281.43" y1="573.20" y2="744.50"/>
<line class="g" x1="294.82" x2="294.82" y1="573.20" y2="744.50"/>
<line class="g" x1="308.21" x2="308.21" y1="573.20" y2="744.50"/>
<line class="g" x1="321.60" x2="321.60" y1="573.20" y2="744.50"/>
<rect x="88.62" y="581.32" width="10.71" height="163.18" fill="#20B2AA"/>
<rect x="102.01" y="593.27" width="10.71" height="151.23" fill="#20B2AA"/>
<rect x="115.40" y="589.46" width="10.71" height="155.04" fill="#20B2AA"/>
<rect x="128.79" y="603.07" width="10.71" height="141.43" fill="#20B2AA"/>
<rect x="142.18" y="608.21" width="10.71" height="136.29" fill="#20B2AA"/>
<rect x="155.57" y="606.39" width="10.71" height="138.11" fill="#20B2AA"/>
<rect x="168.96" y="596.93" width="10.71" height="147.57" fill="#20B2AA"/>
<rect x="182.35" y="600.08" width="10.71" height="144.42" fill="#20B2AA"/>
<rect x="195.74" y="598.92" width="10.71" height="145.58" fill="#20B2AA"/>
<rect x="209.13" y="589.79" width="10.71" height="154.71" fill="#20B2AA"/>
<rect x="222.52" y="597.92" width="10.71" height="146.58" fill="#20B2AA"/>
<rect x="235.91" y="595.27" width="10.71" height="149.23" fill="#20B2AA"/>
<rect x="249.30" y="587.96" width="10.71" height="156.54" fill="#20B2AA"/>
<rect x="262.69" y="593.94" width="10.71" height="150.56" fill="#20B2AA"/>
<rect x="276.08" y="591.95" width="10.71" height="152.55" fill="#20B2AA"/>
<rect x="289.47" y="587.13" width="10.71" height="157.37" fill="#20B2AA"/>
<rect x="302.86" y="597.09" width="10.71" height="147.41" fill="#20B2AA"/>
<rect x="316.25" y="590.29" width="10.71" height="154.21" fill="#20B2AA"/>
<line class="o" x1="93.97" x2="93.97" y1="581.32" y2="744.50"/>
<line class="o" x1="107.36" x2="107.36" y1="593.27" y2="744.50"/>
<line class="o" x1="120.75" x2="120.75" y1="589.46" y2="744.50"/>
<line class="o" x1="134.14" x2="134.14" y1="603.07" y2="744.50"/>
<line class="o" x1="147.53" x2="147.53" y1="608.21" y2="744.50"/>
<line class="o" x1="160.92" x2="160.92" y1="606.39" y2="744.50"/>
<line class="o" x1="174.31" x2="174.31" y1="596.93" y2="744.50"/>
<line class="o" x1="187.70" x2="187.70" y1="600.08" y2="744.50"/>
<line class="o" x1="201.09" x2="201.09" y1="598.92" y2="744.50"/>
<line class="o" x1="214.48" x2="214.48" y1="589.79" y2="744.50"/>
<line class="o" x1="227.87" x2="227.87" y1="597.92" y2="744.50"/>
<line class="o" x1="241.26" x2="241.26" y1="595.27" y2="744.50"/>
<line class="o" x1="254.65" x2="254.65" y1="587.96" y2="744.50"/>
<line class="o" x1="268.04" x2="268.04" y1="593.94" y2="744.50"/>
<line class="o" x1="281.43" x2="281.43" y1="591.95" y2="744.50"/>
<line class="o" x1="294.82" x2="294.82" y1="587.13" y2="744.50"/>
<line class="o" x1="308.21" x2="308.21" y1="597.09" y2="744.50"/>
<line class="o" x1="321.60" x2="321.60" y1="590.29" y2="744.50"/>
<line class="g" style="opacity:0.3" x1="76.70" x2="338.80" y1="711.30" y2="711.30"/>
<line class="g" style="opacity:0.3" x1="76.70" x2="338.80" y1="678.10" y2="678.10"/>
<line class="g" style="opacity:0.3" x1="76.70" x2="338.80" y1="644.90" y2="644.90"/>
<line class="g" style="opacity:0.3" x1="76.70" x2="338.80" y1="611.70" y2="611.70"/>
<line class="g" style="opacity:0.3" x1="76.70" x2="338.80" y1="578.50" y2="578.50"/>
<line class="k" x1="76.70" x2="78.70" y1="744.50" y2="744.50"/>
<text class="y" x="74.40" y="747.10">0</text>
<line class="k" x1="76.70" x2="78.70" y1="711.30" y2="711.30"/>
<text class="y" x="74.40" y="713.90">20</text>
<line class="k" x1="76.70" x2="78.70" y1="678.10" y2="678.10"/>
<text class="y" x="74.40" y="680.70">40</text>
<line class="k" x1="76.70" x2="78.70" y1="644.90" y2="644.90"/>
<text class="y" x="74.40" y="647.50">60</text>
<line class="k" x1="76.70" x2="78.70" y1="611.70" y2="611.70"/>
<text class="y" x="74.40" y="614.30">80</text>
<line class="k" x1="76.70" x2="78.70" y1="578.50" y2="578.50"/>
<text class="y" x="74.40" y="581.10">100</text>
<line class="k" x1="93.97" x2="93.97" y1="744.50" y2="742.50"/>
<line class="k" x1="107.36" x2="107.36" y1="744.50" y2="742.50"/>
<line class="k" x1="120.75" x2="120.75" y1="744.50" y2="742.50"/>
<line class="k" x1="134.14" x2="134.14" y1="744.50" y2="742.50"/>
<line class="k" x1="147.53" x2="147.53" y1="744.50" y2="742.50"/>
<line class="k" x1="160.92" x2="160.92" y1="744.50" y2="742.50"/>
<line class="k" x1="174.31" x2="174.31" y1="744.50" y2="742.50"/>
<line class="k" x1="187.70" x2="187.70" y1="744.50" y2="742.50"/>
<line class="k" x1="201.09" x2="201.09" y1="744.50" y2="742.50"/>
<line class="k" x1="214.48" x2="214.48" y1="744.50" y2="742.50"/>
<line class="k" x1="227.87" x2="227.87" y1="744.50" y2="742.50"/>
<line class="k" x1="241.26" x2="241.26" y1="744.50" y2="742.50"/>
<line class="k" x1="254.65" x2="254.65" y1="744.50" y2="742.50"/>
<line class="k" x1="268.04" x2="268.04" y1="744.50" y2="742.50"/>
<line class="k" x1="281.43" x2="281.43" y1="744.50" y2="742.50"/>
<line class="k" x1="294.82" x2="294.82" y1="744.50" y2="742.50"/>
<line class="k" x1="308.21" x2="308.21" y1="744.50" y2="742.50"/>
<line class="k" x1="321.60" x2="321.60" y1="744.50" y2="742.50"/>
<path class="s" d="M76.70 573.20V744.50H338.80"/>
<text class="x" transform="translate(92.34 749.27) rotate(-45)">Proposed Model - HAM10000 (Original)</text>
<text class="x" transform="translate(105.73 749.27) rotate(-45)">Proposed Model - ISIC (Preliminary)</text>
<text class="x" transform="translate(119.12 749.27) rotate(-45)">Proposed Model - PH2 (Preliminary)</text>
<text class="x" transform="translate(132.51 749.27) rotate(-45)">UNet - HAM10000 (Original)</text>
<text class="x" transform="translate(145.90 749.27) rotate(-45)">UNet - ISIC (Preliminary)</text>
<text class="x" transform="translate(159.29 749.27) rotate(-45)">UNet - PH2 (Preliminary)</text>
<text class="x" transform="translate(172.68 749.27) rotate(-45)">DenseNet - HAM10000 (Original)</text>
<text class="x" transform="translate(186.07 749.27) rotate(-45)">DenseNet - ISIC (Preliminary)</text>
<text class="x" transform="translate(199.46 749.27) rotate(-45)">DenseNet - PH2 (Preliminary)</text>
<text class="x" transform="translate(212.85 749.27) rotate(-45)">Attention UNet - HAM10000 (Original)</text>
<text class="x" transform="translate(226.24 749.27) rotate(-45)">Attention UNet - ISIC (Preliminary)</text>
<text class="x" transform="translate(239.63 749.27) rotate(-45)">Attention UNet - PH2 (Preliminary)</text>
<text class="x" transform="translate(253.02 749.27) rotate(-45)">UNet++ - HAM10000 (Original)</text>
<text class="x" transform="translate(266.41 749.27) rotate(-45)">UNet++ - ISIC (Preliminary)</text>
<text class="x" transform="translate(279.80 749.27) rotate(-45)">UNet++ - PH2 (Preliminary)</text>
<text class="x" transform="translate(293.19 749.27) rotate(-45)">TransUNet - HAM10000 (Original)</text>
<text class="x" transform="translate(306.58 749.27) rotate(-45)">TransUNet - ISIC (Preliminary)</text>
<text class="x" transform="translate(319.97 749.27) rotate(-45)">TransUNet - PH2 (Preliminary)</text>
</g>
</svg></body></html>
